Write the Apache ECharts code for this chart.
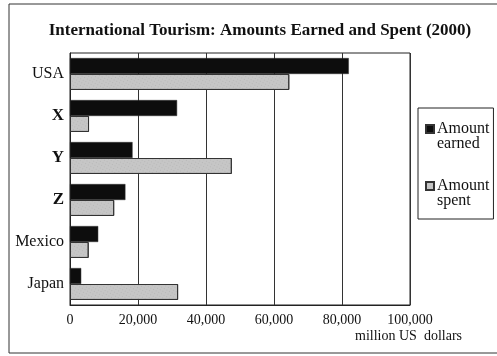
<!DOCTYPE html>
<html>
<head>
<meta charset="utf-8">
<script src="https://cdn.jsdelivr.net/npm/echarts@6/dist/echarts.min.js"></script>
<style>
  html, body { margin: 0; padding: 0; background: #fff; }
  #main { width: 497px; height: 356px; }
</style>
</head>
<body>
<div id="main"></div>
<script>
// 数据
var countries = ['USA', 'X', 'Y', 'Z', 'Mexico', 'Japan'];
var earned = [82000, 31500, 18400, 16300, 8300, 3300];
var spent = [64500, 5600, 47600, 13000, 5500, 31800];
var xTicks = [0, 20000, 40000, 60000, 80000, 100000];
var boldNames = ['X', 'Y', 'Z'];

var serif = '"Liberation Serif", "DejaVu Serif", serif';

var chart = echarts.init(document.getElementById('main'));

var option = {
    animation: false,
    backgroundColor: '#fff',
    title: {
        text: 'International Tourism: Amounts Earned and Spent (2000)',
        left: 255,
        textAlign: 'center',
        top: 17,
        textStyle: {
            fontFamily: serif,
            fontSize: 17,
            fontWeight: 'bold',
            color: '#111'
        }
    },
    legend: {
        orient: 'vertical',
        left: 418,
        top: 108,
        padding: [13, 4, 10, 7],
        borderColor: '#222',
        borderWidth: 1,
        itemWidth: 8,
        itemHeight: 29,
        itemGap: 26,
        selectedMode: false,
        // 图标放在第一行文字旁边
        icon: 'path://M0 0 M0 3H8V11H0Z M0 29',
        textStyle: {
            fontFamily: serif,
            fontSize: 16,
            lineHeight: 15,
            color: '#111',
            padding: [0, 0, 0, -2]
        },
        formatter: function (name) {
            return name.replace(' ', '\n');
        },
        data: ['Amount earned', 'Amount spent']
    },
    grid: {
        left: 70,
        right: 87,
        top: 53,
        bottom: 51,
        show: true,
        borderColor: '#222',
        borderWidth: 1
    },
    xAxis: {
        type: 'value',
        min: xTicks[0],
        max: xTicks[xTicks.length - 1],
        interval: 20000,
        axisLine: { show: true, lineStyle: { color: '#222' } },
        axisTick: { show: false },
        splitLine: { show: true, lineStyle: { color: '#333', width: 1 } },
        axisLabel: {
            margin: 8,
            fontFamily: serif,
            fontSize: 14,
            color: '#111',
            formatter: function (v) {
                return v.toLocaleString('en-US');
            }
        }
    },
    yAxis: {
        type: 'category',
        inverse: true,
        data: countries,
        axisLine: { show: true, lineStyle: { color: '#222' } },
        axisTick: { show: false },
        axisLabel: {
            margin: 6,
            fontFamily: serif,
            fontSize: 16,
            color: '#111',
            formatter: function (v) {
                return boldNames.indexOf(v) >= 0 ? '{b|' + v + '}' : v;
            },
            rich: {
                b: { fontFamily: serif, fontSize: 17, fontWeight: 'bold', color: '#111' }
            }
        }
    },
    series: [{
        name: 'Amount earned',
        type: 'bar',
        data: earned,
        barGap: '0%',
        barCategoryGap: '24%',
        itemStyle: {
            color: '#0d0d0d',
            borderColor: '#333',
            borderWidth: 0.5
        }
    }, {
        name: 'Amount spent',
        type: 'bar',
        data: spent,
        itemStyle: {
            color: '#c6c6c6',
            borderColor: '#333',
            borderWidth: 1,
            decal: {
                symbol: 'rect',
                symbolSize: 0.6,
                color: 'rgba(90,90,90,0.45)',
                dashArrayX: [[1, 2]],
                dashArrayY: [1, 2],
                rotation: 0.5
            }
        }
    }],
    graphic: [{
        type: 'rect',
        shape: { x: 9, y: 4, width: 530, height: 349 },
        style: { fill: null, stroke: '#333', lineWidth: 1 },
        silent: true,
        z: -1
    }, {
        type: 'text',
        right: 35,
        top: 329,
        style: {
            text: 'million US  dollars',
            fontFamily: serif,
            fontSize: 14,
            fill: '#111'
        }
    }]
};

chart.setOption(option);
</script>
</body>
</html>
